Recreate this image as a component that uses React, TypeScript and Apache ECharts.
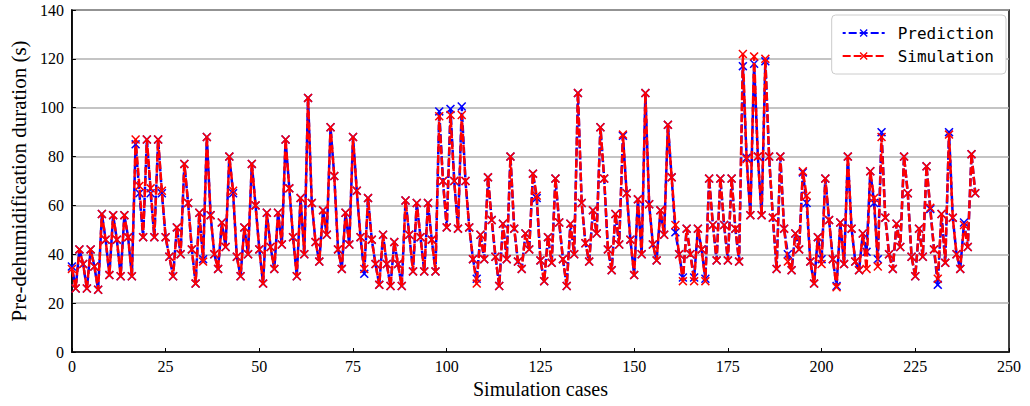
import React, { useEffect, useRef } from "react";
import * as echarts from "echarts";

// Pre-dehumidification duration (s) for each simulation case, index = case number
const prediction = [
  35, 26, 42, 36, 26, 42, 35, 25.5, 56.5, 46, 31.5, 56, 46, 31, 56, 47, 31, 85, 65, 47,
  87, 65, 47, 87, 65, 47, 39, 31, 51, 40, 77, 61, 42, 28, 57, 38, 88, 56, 40, 34,
  53, 43, 80, 65, 39, 31, 51, 40, 77, 60, 42, 28, 57, 43, 34, 57, 44, 87, 67, 47,
  31, 63, 40, 104, 61, 45, 37, 58, 48, 92, 72, 42, 34, 57, 44, 88, 66, 47, 32, 63,
  46, 36, 27.5, 48, 36, 27, 45, 36, 27, 62, 48, 33, 61, 47, 33, 61, 46, 33, 98.5, 70,
  51, 99.5, 70, 50.5, 100.5, 70, 51, 38, 30, 48, 38, 71.5, 54, 39, 27, 52.5, 38, 80, 50.5, 37,
  34, 48.5, 42, 73, 63, 37.5, 29, 47, 36.5, 71, 53, 38, 27, 52.5, 40, 106, 61, 44.5, 37, 58,
  48.5, 92, 71, 42, 33.5, 56.5, 44, 88.5, 65, 46, 31.5, 62.5, 40, 106, 60.5, 44, 37.5, 58, 48, 93,
  71.5, 49, 40, 30.5, 50.5, 40, 30.5, 50.5, 42, 30, 71, 52, 37.5, 71, 52, 37.5, 71, 50.5, 37, 117,
  79.5, 56, 118, 80, 56, 119, 80, 55, 34, 80, 50.5, 40, 33.5, 48.5, 42, 73.5, 61, 37, 28, 47,
  38, 71, 54, 38, 27, 53, 36, 80, 50.5, 37, 33.5, 48.5, 41, 74, 61, 38, 90, 55, 40, 34,
  52.5, 43, 80, 65, 39, 31, 50.5, 39, 76, 58.5, 42, 27.5, 56.5, 36.5, 90, 55, 40, 34, 53, 43,
  81, 65,
];

const simulation = [
  34, 26, 42, 36, 26, 42, 35, 25.5, 56.5, 46, 31.5, 56, 46, 31, 56, 47, 31, 87, 68, 47,
  87, 67, 47, 87, 66, 47, 39, 31, 51, 40, 77, 61, 42, 28, 57, 37, 88, 56, 40, 34,
  53, 43, 80, 66, 39, 31, 51, 40, 77, 60, 42, 28, 57, 43, 34, 57, 44, 87, 67, 47,
  31, 63, 40, 104, 61, 45, 37, 58, 48, 92, 72, 42, 34, 57, 44, 88, 66, 47, 34, 63,
  46, 36, 27.5, 48, 36, 27, 45, 36, 27, 62, 48, 33, 61, 47, 33, 61, 46, 33, 96.5, 70,
  51, 97, 70, 50.5, 97, 70, 51, 38, 28, 48, 38, 71.5, 54, 39, 27, 52.5, 38, 80, 50.5, 37,
  34, 48.5, 42, 73, 64, 37.5, 29, 47, 36.5, 71, 53, 38, 27, 52.5, 40, 106, 61, 44.5, 37, 58,
  48.5, 92, 71, 42, 33.5, 56.5, 44, 89, 65, 46, 31.5, 62.5, 40, 106, 60.5, 44, 37.5, 58, 48, 93,
  71.5, 52, 40, 29, 50.5, 40, 29, 50.5, 42, 29, 71, 52, 37.5, 71, 52, 37.5, 71, 50.5, 37, 122,
  79, 56, 121, 80, 56, 120, 80, 55, 34, 80, 50.5, 37, 33.5, 48.5, 42, 74, 64, 37, 28, 47,
  36, 71, 54, 38, 26.5, 53, 36, 80, 50.5, 37, 33.5, 48.5, 34, 74, 63, 35, 88, 55, 40, 34,
  52.5, 43, 80, 65, 39, 31, 50.5, 39, 76, 59, 42, 30, 56.5, 36.5, 89, 55, 40, 34, 52, 43,
  81, 65,
];

const xTicks = { min: 0, max: 250, interval: 25 };
const yTicks = { min: 0, max: 140, interval: 20 };

const crossMarker =
  "path://M1.2,0 L5,3.8 L8.8,0 L10,1.2 L6.2,5 L10,8.8 L8.8,10 L5,6.2 L1.2,10 L0,8.8 L3.8,5 L0,1.2 Z";

const serif = "'Liberation Serif', 'Times New Roman', serif";

export default function App() {
  const ref = useRef<HTMLDivElement>(null);

  useEffect(() => {
    if (!ref.current) return;
    const chart = echarts.init(ref.current, undefined, { renderer: "svg" });
    const toPairs = (vals: number[]) => vals.map((v, i) => [i, v]);

    chart.setOption({
      animation: false,
      backgroundColor: "#ffffff",
      grid: {
        left: 68,
        right: 21,
        top: 10,
        bottom: 54,
        show: true,
        borderColor: "#000",
        borderWidth: 1.5,
        backgroundColor: "transparent",
      },
      legend: {
        top: 15,
        right: 24,
        orient: "vertical",
        backgroundColor: "#fff",
        borderColor: "#cccccc",
        borderWidth: 1,
        borderRadius: 4,
        padding: [10, 12, 10, 10],
        itemGap: 7,
        itemWidth: 42,
        itemHeight: 10,
        textStyle: {
          fontFamily: "'DejaVu Sans Mono', monospace",
          fontSize: 16,
          color: "#000",
          padding: [0, 0, 0, 8],
        },
        data: ["Prediction", "Simulation"],
      },
      xAxis: {
        type: "value",
        min: xTicks.min,
        max: xTicks.max,
        interval: xTicks.interval,
        name: "Simulation cases",
        nameLocation: "middle",
        nameGap: 23,
        nameTextStyle: { fontFamily: serif, fontSize: 20, color: "#000" },
        axisLine: { show: true, lineStyle: { color: "#000", width: 1.5 } },
        axisTick: { show: true, inside: true, length: 4, lineStyle: { color: "#000" } },
        axisLabel: { fontFamily: serif, fontSize: 16, color: "#000", margin: 6 },
        splitLine: { show: false },
      },
      yAxis: {
        type: "value",
        min: yTicks.min,
        max: yTicks.max,
        interval: yTicks.interval,
        name: "Pre-dehumidification duration (s)",
        nameLocation: "middle",
        nameGap: 38,
        nameTextStyle: { fontFamily: serif, fontSize: 21, color: "#000" },
        axisLine: { show: true, lineStyle: { color: "#000", width: 1.5 } },
        axisTick: { show: true, inside: true, length: 4, lineStyle: { color: "#000" } },
        axisLabel: { fontFamily: serif, fontSize: 16, color: "#000", margin: 8 },
        splitLine: { show: true, lineStyle: { color: "#b0b0b0", width: 1.5 } },
      },
      series: [
        {
          name: "Prediction",
          type: "line",
          data: toPairs(prediction),
          symbol: crossMarker,
          symbolSize: 9,
          showAllSymbol: true,
          itemStyle: { color: "#0000ff" },
          lineStyle: { color: "#0000ff", width: 2.5, type: [8, 3], dashOffset: 5 },
          z: 2,
        },
        {
          name: "Simulation",
          type: "line",
          data: toPairs(simulation),
          symbol: crossMarker,
          symbolSize: 9,
          showAllSymbol: true,
          itemStyle: { color: "#ff0000" },
          lineStyle: { color: "#ff0000", width: 2.5, type: [8, 3] },
          z: 3,
        },
      ],
    });

    return () => chart.dispose();
  }, []);

  return (
    <div
      ref={ref}
      style={{ position: "fixed", left: 0, top: 0, width: 1030, height: 406 }}
    />
  );
}
